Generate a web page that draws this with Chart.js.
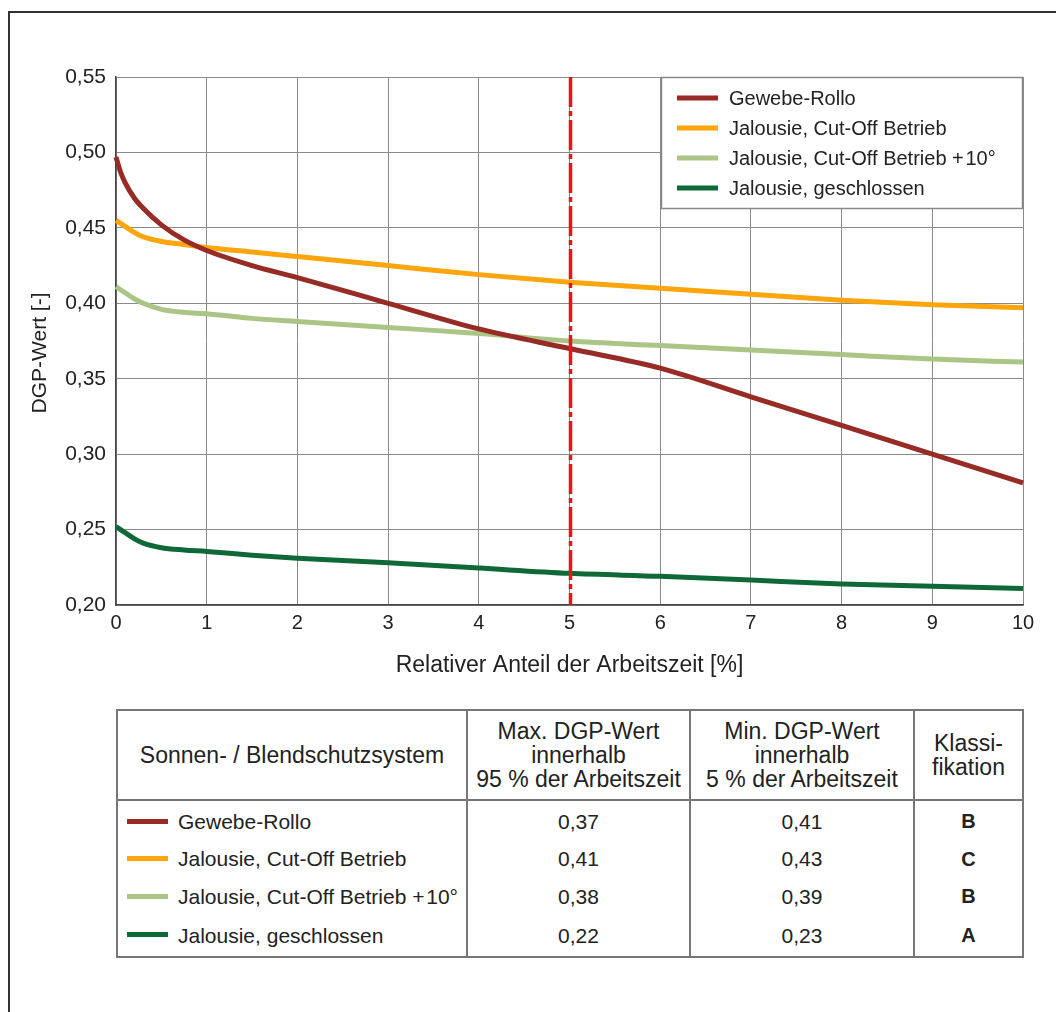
<!DOCTYPE html>
<html><head><meta charset="utf-8">
<script src="https://cdn.jsdelivr.net/npm/chart.js@4/dist/chart.umd.min.js"></script>
<style>
html,body{margin:0;padding:0;background:#fff;width:1056px;height:1012px;overflow:hidden;font-family:"Liberation Sans",Arial,sans-serif;color:#222;}
#frame{position:absolute;left:8px;top:11px;width:1100px;height:1100px;border-left:2px solid #333;border-top:2px solid #333;}
#wrap{position:absolute;left:0;top:0;width:1056px;height:700px;}
table{position:absolute;left:116px;top:709px;width:908px;border-collapse:collapse;font-size:23px;}
td,th{border:2px solid #777;font-weight:normal;text-align:center;padding:0;}
th{height:88px;line-height:24px;}
tbody td{border-top:none;border-bottom:none;height:37.5px;font-size:21px;}
tbody tr:first-child td{padding-top:2px}
tbody tr:last-child td{border-bottom:2px solid #777;height:40px;}
td.name{text-align:left;padding-left:9px;}
.sw{display:inline-block;width:41px;height:5px;vertical-align:middle;margin-right:10px;position:relative;top:-2px;}
td.cls{font-weight:bold;font-size:20px;}
</style></head>
<body>
<div id="frame"></div>
<div id="wrap"><canvas id="c" width="1056" height="700"></canvas></div>
<table id="tbl"><thead><tr>
<th style="width:348px">Sonnen- / Blendschutzsystem</th>
<th style="width:221px">Max. DGP-Wert<br>innerhalb<br>95 % der Arbeitszeit</th>
<th style="width:222px">Min. DGP-Wert<br>innerhalb<br>5 % der Arbeitszeit</th>
<th>Klassi-<br>fikation</th></tr></thead><tbody id="tb"></tbody></table>
<script>
const seriesNames = ["Gewebe-Rollo","Jalousie, Cut-Off Betrieb","Jalousie, Cut-Off Betrieb +\u200a10°","Jalousie, geschlossen"];
const seriesColors = ["#972B25","#FCA50C","#AAC586","#0F6937"];
const xValues = [0,0.05,0.1,0.2,0.3,0.5,0.75,1,1.5,2,3,4,5,6,7,8,9,10];
const gewebeRollo = [0.497,0.487,0.480,0.470,0.463,0.452,0.442,0.435,0.425,0.417,0.400,0.383,0.370,0.357,0.338,0.319,0.300,0.281];
const cutOff = [0.455,0.453,0.451,0.447,0.444,0.441,0.439,0.437,0.434,0.431,0.425,0.419,0.414,0.410,0.406,0.402,0.399,0.397];
const cutOff10 = [0.411,0.409,0.407,0.403,0.400,0.396,0.394,0.393,0.390,0.388,0.384,0.380,0.375,0.372,0.369,0.366,0.363,0.361];
const geschlossen = [0.252,0.250,0.248,0.244,0.241,0.238,0.2365,0.2355,0.233,0.231,0.228,0.2245,0.221,0.219,0.2165,0.214,0.2125,0.211];
const xTicks = [0,1,2,3,4,5,6,7,8,9,10];
const yTicks = [0.20,0.25,0.30,0.35,0.40,0.45,0.50,0.55];
const markerX = 5;
const yTitle = 'DGP-Wert [-]';
const xTitle = 'Relativer Anteil der Arbeitszeit [%]';
const maxDGP95 = ["0,37","0,41","0,38","0,22"];
const minDGP5 = ["0,41","0,43","0,39","0,23"];
const klasse = ["B","C","B","A"];

const allSeries = [gewebeRollo, cutOff, cutOff10, geschlossen];

const tb = document.getElementById('tb');
seriesNames.forEach((n,i)=>{
  const tr = document.createElement('tr');
  tr.innerHTML = `<td class="name"><span class="sw" style="background:${seriesColors[i]}"></span>${n}</td><td>${maxDGP95[i]}</td><td>${minDGP5[i]}</td><td class="cls">${klasse[i]}</td>`;
  tb.appendChild(tr);
});

const fontFam = '"Liberation Sans", Arial, sans-serif';
const markerPlugin = {
  id:'marker',
  afterDatasetsDraw(chart){
    const {ctx, chartArea, scales:{x}} = chart;
    const px = Math.round(x.getPixelForValue(markerX))+0.5;
    ctx.save();
    ctx.strokeStyle = '#E8141C'; ctx.lineWidth = 3.5;
    ctx.setLineDash([30,4,5,4]);
    ctx.beginPath(); ctx.moveTo(px, chartArea.top); ctx.lineTo(px, chartArea.bottom); ctx.stroke();
    ctx.restore();
    const lx = 661, ly = chartArea.top, lw = chartArea.right - 661, lh = 132;
    ctx.save();
    ctx.fillStyle = '#fff'; ctx.fillRect(lx, ly, lw, lh);
    ctx.strokeStyle = '#888'; ctx.lineWidth = 1.5; ctx.strokeRect(lx+0.5, ly+0.5, lw-1, lh-1);
    ctx.font = '20px ' + fontFam;
    ctx.textBaseline = 'middle';
    chart.data.datasets.forEach((ds,i)=>{
      const yy = ly + 21 + i*30;
      ctx.fillStyle = ds.borderColor; ctx.fillRect(677, yy-2.5, 41, 5);
      ctx.fillStyle = '#222'; ctx.fillText(ds.label, 729, yy+1);
    });
    // y-axis title
    ctx.translate(40, (chartArea.top + chartArea.bottom)/2 + 12);
    ctx.rotate(-Math.PI/2);
    ctx.textAlign = 'center';
    ctx.font = '21px ' + fontFam;
    ctx.fillText(yTitle, 0, 0);
    ctx.restore();
  }
};

new Chart(document.getElementById('c'), {
  type:'line',
  data:{
    datasets: allSeries.map((arr,i)=>({
      label: seriesNames[i],
      data: xValues.map((xv,j)=>({x:xv, y:arr[j]})),
      borderColor: seriesColors[i], backgroundColor: seriesColors[i],
      borderWidth:5, pointRadius:0, cubicInterpolationMode:'monotone', fill:false, clip:false
    }))
  },
  options:{
    responsive:false, animation:false, devicePixelRatio:1,
    layout:{padding:{left:20,right:33,top:77,bottom:17}},
    plugins:{legend:{display:false}, tooltip:{enabled:false}},
    scales:{
      x:{type:'linear', min:0, max:10,
        afterBuildTicks(s){ s.ticks = xTicks.map(v=>({value:v})); },
        afterFit(s){ s.height = 78; },
        ticks:{font:{size:20,family:fontFam}, color:'#222', padding:6, maxRotation:0, callback:v=>String(v)},
        grid:{color:'#8a8a8a', lineWidth:1, drawTicks:false},
        border:{color:'#444', width:1.5},
        title:{display:true, text:xTitle, font:{size:23,family:fontFam}, color:'#222', padding:{top:4,bottom:4}}
      },
      y:{type:'linear', min:0.2, max:0.55,
        afterBuildTicks(s){ s.ticks = yTicks.map(v=>({value:v})); },
        afterFit(s){ s.width = 96; },
        ticks:{font:{size:21,family:fontFam}, color:'#222', padding:10, callback:v=>v.toFixed(2).replace('.',',')},
        grid:{color:'#8a8a8a', lineWidth:1, drawTicks:false},
        border:{color:'#444', width:1.5},
        title:{display:false}
      }
    }
  },
  plugins:[markerPlugin]
});
</script>
</body></html>
